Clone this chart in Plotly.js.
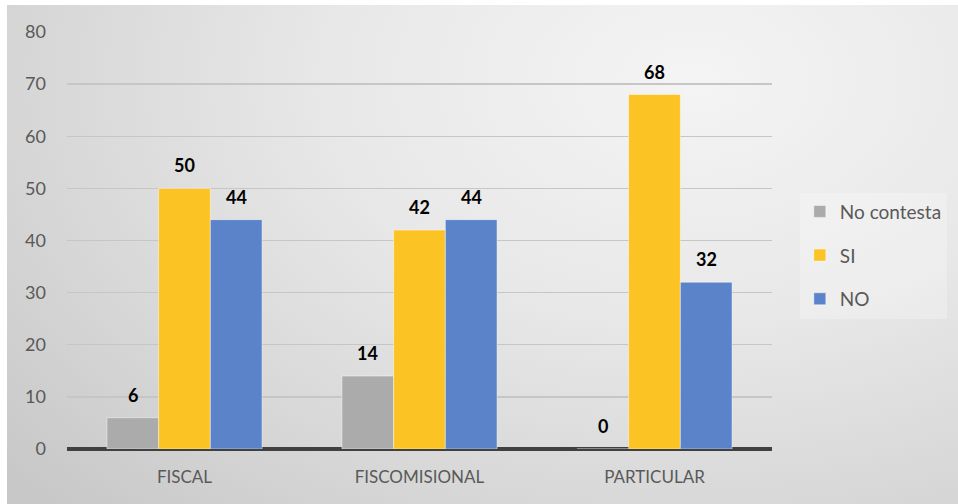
<!DOCTYPE html>
<html><head><meta charset="utf-8">
<script src="https://cdn.plot.ly/plotly-3.0.1.min.js"></script>
<style>
html,body{margin:0;padding:0;background:#fff;}
#wrap{position:absolute;left:7px;top:5px;width:951px;height:499px;
background:radial-gradient(ellipse 900px 600px at 72% 15%, #f4f4f4 0%, #e8e8e8 40%, #d6d6d6 75%, #c8c8c8 100%);}
#chart{position:absolute;left:-7px;top:-5px;width:958px;height:504px;}
</style></head>
<body><div id="wrap"><div id="chart"></div></div>
<script>
var categories = ["FISCAL", "FISCOMISIONAL", "PARTICULAR"];
var seriesNames = ["No contesta", "SI", "NO"];
var noContesta = [6, 14, 0];
var si = [50, 42, 68];
var no = [44, 44, 32];
var yTicks = [0, 10, 20, 30, 40, 50, 60, 70, 80];

var colors = ["#ababab", "#fbc324", "#5b83c9"];
var values = [noContesta, si, no];
var idx = categories.map(function(c, i){ return i; });
var barW = 0.22;

var traces = values.map(function(v, s){
  return {
    type: "bar", x: idx, y: v, name: seriesNames[s],
    legendgroup: "g" + s,
    marker: {color: colors[s], line: {color: "rgba(255,255,255,0.45)", width: 1}},
    hoverinfo: "none"
  };
});

var annotations = [];
values.forEach(function(v, s){
  v.forEach(function(val, i){
    annotations.push({
      x: i + (s - 1) * barW, y: val, xref: "x", yref: "y",
      text: "<b>" + val + "</b>", showarrow: false, yanchor: "bottom",
      yshift: 10, font: {family: "Lato, 'Liberation Sans', sans-serif", size: 18, color: "#000"}
    });
  });
});

var layout = {
  width: 958, height: 504,
  paper_bgcolor: "rgba(0,0,0,0)", plot_bgcolor: "rgba(0,0,0,0)",
  margin: {l: 67, r: 185, t: 32, b: 55},
  barmode: "group", bargap: 0.34, bargroupgap: 0,
  font: {family: "Lato, 'Liberation Sans', sans-serif", size: 18, color: "#595959"},
  xaxis: {
    range: [-0.5, 2.5], tickvals: idx, ticktext: categories,
    showgrid: false, zeroline: false, showline: false, ticks: "",
    ticklabelstandoff: 16, fixedrange: true, tickfont: {size: 17}
  },
  yaxis: {
    range: [0, 80], tickvals: yTicks, showgrid: true, gridcolor: "#c6c6c6", gridwidth: 1.3,
    zeroline: true, zerolinecolor: "#404040", zerolinewidth: 3.5,
    showline: false, ticks: "", ticklabelstandoff: 20, fixedrange: true
  },
  showlegend: true,
  legend: {
    x: 1.038, xanchor: "left", y: 0.615, yanchor: "top",
    bgcolor: "rgba(255,255,255,0.25)", traceorder: "grouped", tracegroupgap: 16,
    font: {size: 19, color: "#595959"}, itemwidth: 30
  },
  annotations: annotations
};

Plotly.newPlot("chart", traces, layout, {displayModeBar: false, staticPlot: true});
</script>
</body></html>
